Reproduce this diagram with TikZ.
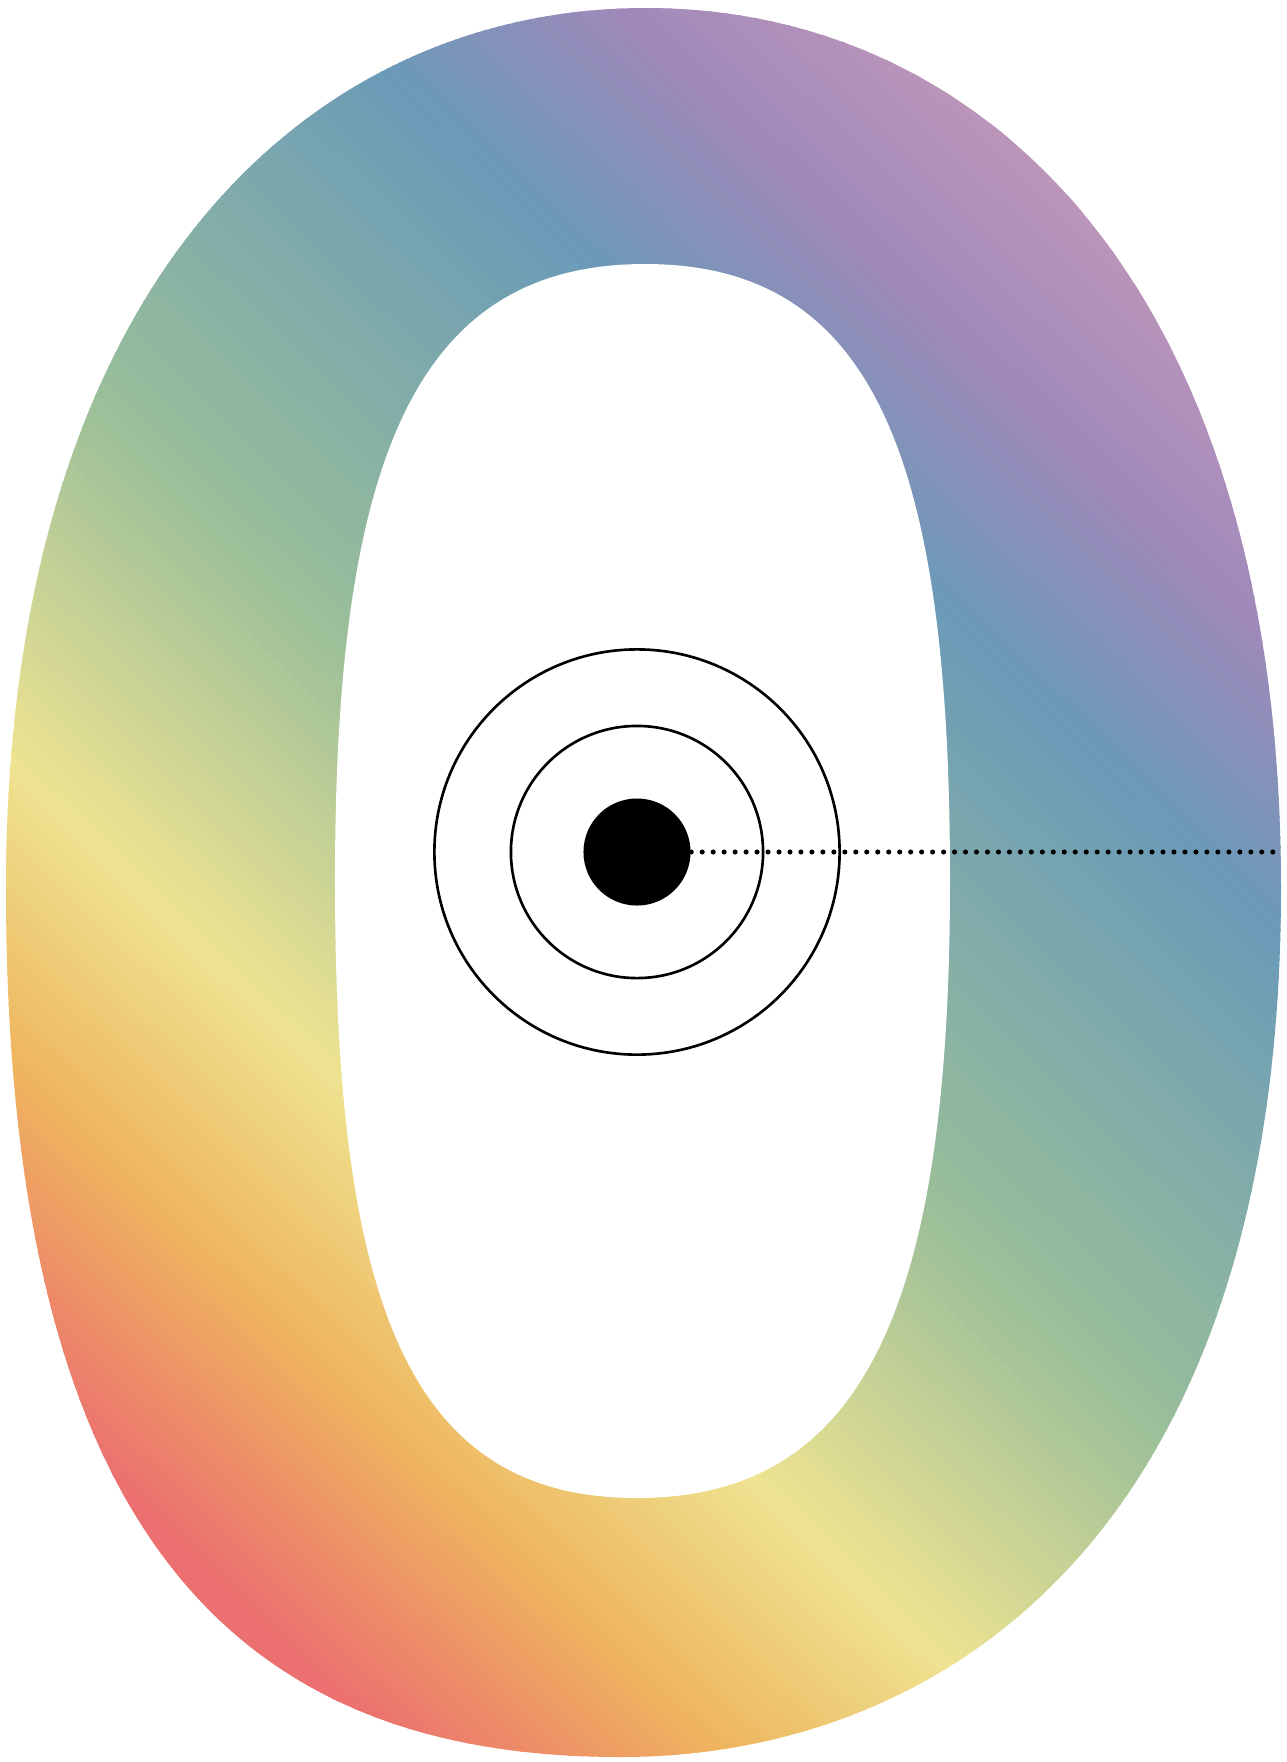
\documentclass[tikz,border=0pt]{standalone}
\usepackage{xcolor}
\usepackage{tikz}
\definecolor{bandred}{HTML}{EC7070}
\definecolor{bandorange}{HTML}{EFB55E}
\definecolor{bandyellow}{HTML}{EEE391}
\definecolor{bandgreen}{HTML}{98BE9A}
\definecolor{bandblue}{HTML}{6A9AB8}
\definecolor{bandpurple}{HTML}{9E89BA}
\definecolor{bandpink}{HTML}{C89AB9}
\tikzset{
  ringnode/.style={circle,draw=black,line width=0.75pt,inner sep=0pt},
  centernode/.style={circle,fill=black,inner sep=0pt,minimum size=1.07cm},
  rayedge/.style={line width=1.45pt,line cap=round,dash pattern=on 0pt off 3.12pt}
}

\begin{document}
\begin{tikzpicture}[x=0.01cm,y=-0.01cm]
  \useasboundingbox (0,0) rectangle (1287,1762);

  \begin{scope}
    \clip (646,8) .. controls (306,8) and (6,288) .. (6,888)
      .. controls (6,1538) and (240,1757) .. (620,1757)
      .. controls (940,1757) and (1281,1538) .. (1281,888)
      .. controls (1281,288) and (986,8) .. cycle;
    \begin{scope}[shift={(643,882)},rotate=46]
      \fill[bandred] (-1300,-1300) rectangle (-801,1300);
      \foreach \sa/\sb/\ca/\cb in {-803/-573/bandred/bandorange,
          -573/-356/bandorange/bandyellow, -356/-30/bandyellow/bandgreen,
          -30/400/bandgreen/bandblue, 400/602/bandblue/bandpurple,
          602/866/bandpurple/bandpink}{
        \foreach \i in {0,...,29}{
          \pgfmathsetmacro\pa{\sa+(\sb-(\sa))*\i/30}
          \pgfmathtruncatemacro\pc{\i*100/30}
          \fill[\cb!\pc!\ca] (\pa,-1300) rectangle ++({(\sb-(\sa))/30+2},2600);
        }
      }
      \fill[bandpink] (866,-1300) rectangle (1300,1300);
    \end{scope}
  \end{scope}

  % hole of the zero
  \fill[white] (645,264) .. controls (415,264) and (335,460) .. (335,880)
    .. controls (335,1300) and (407,1498) .. (637,1498)
    .. controls (867,1498) and (950,1300) .. (950,880)
    .. controls (950,460) and (875,264) .. cycle;

  \node[ringnode,minimum size=4.05cm] (outerring) at (637,852) {};
  \node[ringnode,minimum size=2.52cm] (innerring) at (637,852) {};
  \node[centernode] (eye) at (637,852) {};
  \coordinate (rim) at (1282,852);

  \draw[rayedge] (eye.east) -- (rim);
\end{tikzpicture}
\end{document}
